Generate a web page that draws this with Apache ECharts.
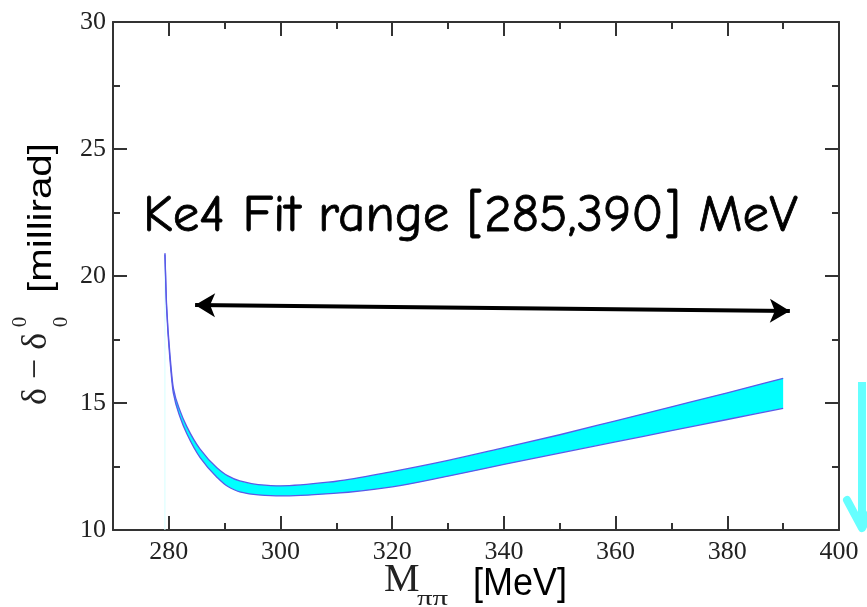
<!DOCTYPE html>
<html>
<head>
<meta charset="utf-8">
<script src="https://cdn.jsdelivr.net/npm/echarts@6/dist/echarts.min.js"></script>
<style>html,body{margin:0;padding:0;background:#fff}#c{width:867px;height:607px}</style>
</head>
<body>
<div id="c"></div>
<script>
// ---- data ----
const mass      = [279.3, 279.6, 280.2, 280.8, 282.0, 283.2, 285.6, 288.6, 290.5, 292.7, 296, 300, 310, 320, 330, 340, 350, 360, 370, 380, 390];
const bandLower = [20.85, 18.70, 16.70, 15.40, 14.45, 13.80, 12.85, 12.08, 11.72, 11.50, 11.38, 11.34, 11.45, 11.70, 12.12, 12.58, 13.03, 13.47, 13.91, 14.35, 14.79];
const bandUpper = [20.90, 18.85, 16.90, 15.60, 14.70, 14.08, 13.18, 12.45, 12.14, 11.93, 11.79, 11.74, 11.92, 12.30, 12.74, 13.24, 13.75, 14.30, 14.85, 15.40, 15.97];
const xTicks = [280, 300, 320, 340, 360, 380, 400];
const xMinorTicks = [290, 310, 330, 350, 370, 390];
const yTicks = [10, 15, 20, 25, 30];
const fitArrowX = [284.7, 391.2];
const fitArrowY = [18.86, 18.62];
const fitText = 'Ke4 Fit range [285,390] MeV';

// ---- derived ----
const lowerPts = mass.map((m, i) => [m, bandLower[i]]);
const upperPts = mass.map((m, i) => [m, bandUpper[i]]);
const thresholdPts = [[mass[0], yTicks[0]], [mass[0], bandLower[0]]];

const axisColor = '#333';
const edgeColor = '#5a5ae8';
const serif = 'Liberation Serif, Times New Roman, serif';
const sans = 'Liberation Sans, Arial, sans-serif';

const chart = echarts.init(document.getElementById('c'), null, {renderer: 'canvas'});
const gridRect = {left: 113, right: 28, top: 22, bottom: 77};

function xMajor(pos, labels) {
  return {
    type: 'value', gridIndex: 0, position: pos, min: 270, max: 400,
    axisLine: {show: true, onZero: false, lineStyle: {color: axisColor, width: 2}},
    axisTick: {show: true, inside: true, length: 14, customValues: xTicks, lineStyle: {color: axisColor, width: 2}},
    axisLabel: labels ? {show: true, customValues: xTicks, fontFamily: serif, fontSize: 26, color: '#222', margin: 9} : {show: false},
    splitLine: {show: false}
  };
}
function xMinor(pos) {
  return {
    type: 'value', gridIndex: 1, position: pos, min: 270, max: 400,
    axisLine: {show: false, onZero: false},
    axisTick: {show: true, inside: true, length: 7, customValues: xMinorTicks, lineStyle: {color: axisColor, width: 2}},
    axisLabel: {show: false},
    splitLine: {show: false}
  };
}
function yAx(pos, labels, gi) {
  return {
    type: 'value', gridIndex: gi, position: pos, min: yTicks[0], max: yTicks[yTicks.length - 1], interval: 5,
    show: gi === 0,
    axisLine: {show: true, onZero: false, lineStyle: {color: axisColor, width: 2}},
    axisTick: {show: true, inside: true, length: 14, lineStyle: {color: axisColor, width: 2}},
    minorTick: {show: true, splitNumber: 2, length: 7, lineStyle: {color: axisColor, width: 2}},
    axisLabel: labels ? {show: true, fontFamily: serif, fontSize: 26, color: '#222', margin: 7} : {show: false},
    splitLine: {show: false}
  };
}

// monotone cubic (Fritsch-Carlson) through pixel points -> SVG bezier segments
function monoSegments(p) {
  const n = p.length, d = [], m = [];
  for (let i = 0; i < n - 1; i++) d.push((p[i + 1][1] - p[i][1]) / (p[i + 1][0] - p[i][0]));
  m[0] = d[0]; m[n - 1] = d[n - 2];
  for (let i = 1; i < n - 1; i++) {
    if (d[i - 1] * d[i] <= 0) m[i] = 0;
    else {
      const h0 = p[i][0] - p[i - 1][0], h1 = p[i + 1][0] - p[i][0];
      const w1 = 2 * h1 + h0, w2 = h1 + 2 * h0;
      m[i] = (w1 + w2) / (w1 / d[i - 1] + w2 / d[i]);
    }
  }
  const segs = [];
  for (let i = 0; i < n - 1; i++) {
    const h = p[i + 1][0] - p[i][0];
    segs.push('C' + (p[i][0] + h / 3) + ',' + (p[i][1] + m[i] * h / 3) + ' ' +
      (p[i + 1][0] - h / 3) + ',' + (p[i + 1][1] - m[i + 1] * h / 3) + ' ' + p[i + 1][0] + ',' + p[i + 1][1]);
  }
  return segs;
}

function renderBand(params, api) {
  if (params.dataIndex !== 0) return null;
  const up = upperPts.map(p => api.coord(p));
  const lo = lowerPts.map(p => api.coord(p));
  const upPath = 'M' + up[0][0] + ',' + up[0][1] + monoSegments(up).join('');
  const loPath = 'M' + lo[0][0] + ',' + lo[0][1] + monoSegments(lo).join('');
  const loRev = lo.slice().reverse();
  const fillPath = upPath + 'L' + loRev[0][0] + ',' + loRev[0][1] + monoSegments(loRev).join('') + 'Z';
  return {
    type: 'group',
    children: [
      {type: 'path', shape: {pathData: fillPath}, style: {fill: '#00ffff', stroke: null}},
      {type: 'path', shape: {pathData: upPath}, style: {stroke: edgeColor, lineWidth: 1.3, fill: null}},
      {type: 'path', shape: {pathData: loPath}, style: {stroke: edgeColor, lineWidth: 1.3, fill: null}}
    ]
  };
}

const option = {
  animation: false,
  backgroundColor: '#fff',
  grid: [Object.assign({}, gridRect), Object.assign({}, gridRect)],
  xAxis: [xMajor('bottom', true), xMajor('top', false), xMinor('bottom'), xMinor('top')],
  yAxis: [yAx('left', true, 0), yAx('right', false, 0), yAx('left', false, 1)],
  series: [
    {
      name: 'threshold', type: 'line', xAxisIndex: 0, yAxisIndex: 0,
      data: thresholdPts, symbol: 'none', silent: true,
      lineStyle: {color: '#d6ffff', width: 1}, z: 1
    },
    {
      name: 'band', type: 'custom', xAxisIndex: 0, yAxisIndex: 0,
      data: lowerPts, renderItem: renderBand, silent: true, z: 3,
      markLine: {
        silent: true, animation: false,
        symbol: ['arrow', 'arrow'], symbolSize: [18, 20],
        label: {show: false},
        lineStyle: {color: '#000', width: 4, type: 'solid'},
        emphasis: {disabled: true},
        data: [[{coord: [fitArrowX[0], fitArrowY[0]]}, {coord: [fitArrowX[1], fitArrowY[1]]}]]
      }
    }
  ],
  graphic: [
    {
      type: 'text', x: 143, y: 216, z: 10,
      style: {text: fitText, fontFamily: 'Comic Sans MS, Comic Neue, Lato, sans-serif', fontSize: 53, fill: '#000', stroke: '#000', lineWidth: 0.8, verticalAlign: 'middle'}
    },
    // x axis title
    {type: 'text', x: 384, y: 580, style: {text: 'M', fontFamily: serif, fontSize: 40, fill: '#222', verticalAlign: 'middle'}},
    {type: 'text', x: 417, y: 599, scaleX: 1.4, style: {text: 'ππ', fontFamily: serif, fontSize: 22, fill: '#222', verticalAlign: 'middle'}},
    {type: 'text', x: 473, y: 584, scaleY: 1.1, style: {text: '[MeV]', fontFamily: sans, fontSize: 36, fill: '#000', verticalAlign: 'middle'}},
    // y axis title (rotated)
    {type: 'text', x: 37, y: 369, rotation: Math.PI / 2, style: {text: 'δ − δ', fontFamily: serif, fontSize: 36, fill: '#222', align: 'center', verticalAlign: 'middle'}},
    {type: 'text', x: 20, y: 322, rotation: Math.PI / 2, style: {text: '0', fontFamily: serif, fontSize: 21, fill: '#222', align: 'center', verticalAlign: 'middle'}},
    {type: 'text', x: 61, y: 322, rotation: Math.PI / 2, style: {text: '0', fontFamily: serif, fontSize: 21, fill: '#222', align: 'center', verticalAlign: 'middle'}},
    {type: 'text', x: 42, y: 218, rotation: Math.PI / 2, scaleX: 1.22, style: {text: '[millirad]', fontFamily: sans, fontSize: 33, fill: '#000', align: 'center', verticalAlign: 'middle'}},
    // decorative cyan arrow on the right edge
    {type: 'polyline', shape: {points: [[862, 382], [862, 528]]}, style: {stroke: '#66ffff', lineWidth: 8, fill: null}},
    {type: 'polyline', shape: {points: [[847, 500], [862, 528], [877, 500]]}, style: {stroke: '#66ffff', lineWidth: 8, fill: null, lineJoin: 'round', lineCap: 'round'}}
  ]
};
chart.setOption(option);
</script>
</body>
</html>
